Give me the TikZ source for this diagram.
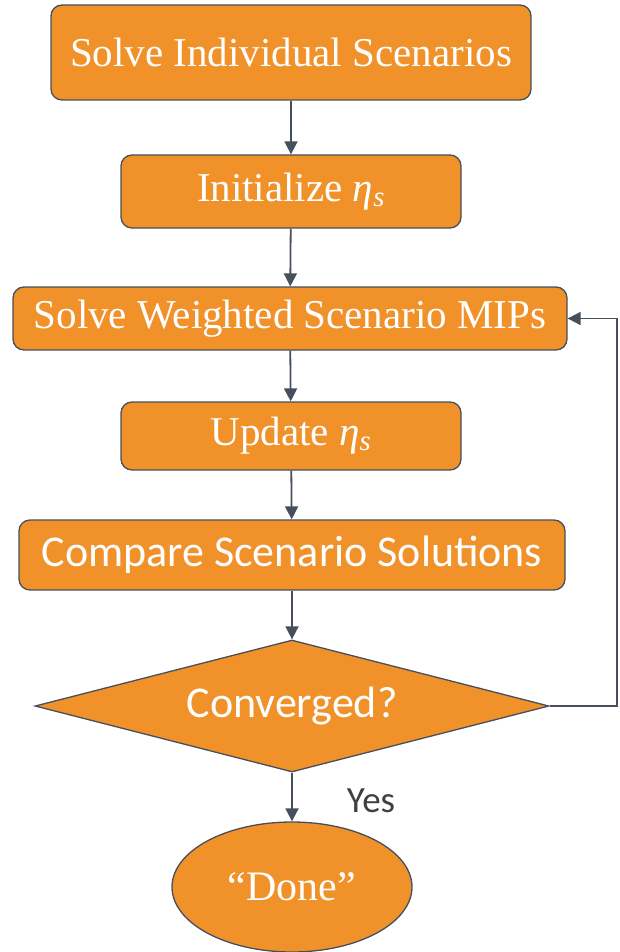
\documentclass[tikz,border=0pt]{standalone}
\usepackage{fontspec}
\setmainfont{Liberation Serif}
\setsansfont{Carlito}
\usetikzlibrary{shapes.geometric,arrows.meta}
\definecolor{boxorange}{HTML}{F0912A}
\definecolor{linegray}{HTML}{46505C}
\newcommand{\etas}{\textit{η}\textsubscript{\itshape s}}
\begin{document}
\begin{tikzpicture}[x=1pt,y=-1pt]
        \tikzstyle{procbox}=[rectangle,rounded corners=11pt,draw=linegray,line width=1.3pt,fill=boxorange,text=white,inner sep=0pt]
        \tikzstyle{decision}=[diamond,aspect=3.9,draw=linegray,line width=1.3pt,fill=boxorange,text=white,inner sep=0pt,font=\sffamily\fontsize{44}{48}\selectfont]
        \tikzstyle{terminal}=[ellipse,draw=linegray,line width=1.3pt,fill=boxorange,text=white,inner sep=0pt,font=\fontsize{42}{46}\selectfont]
        \tikzstyle{link}=[draw=linegray,line width=1.8pt,-{Triangle[width=13pt,length=13pt]}]
        \useasboundingbox (0,0) rectangle (619,952);
        \node [procbox,minimum width=480pt,minimum height=95pt,font=\fontsize{41}{46}\selectfont] (solve) at (291,52.5) {Solve Individual Scenarios};
        \node [procbox,minimum width=340pt,minimum height=73pt,font=\fontsize{41}{46}\selectfont] (init) at (291,191.5) {Initialize \etas};
        \node [procbox,minimum width=554pt,minimum height=63pt,font=\fontsize{41}{46}\selectfont] (mips) at (290,318.5) {Solve Weighted Scenario MIPs};
        \node [procbox,minimum width=340pt,minimum height=68pt,font=\fontsize{41}{46}\selectfont] (update) at (291,436) {Update \etas};
        \node [procbox,minimum width=546pt,minimum height=70pt,font=\sffamily\fontsize{44}{48}\selectfont] (compare) at (292,555) {Compare Scenario Solutions};
        \node [decision,minimum width=514pt,minimum height=132pt] (conv) at (292,706) {Converged?};
        \node [terminal,minimum width=240pt,minimum height=130pt] (done) at (292,887) {``Done''};
        \node [text=black!75,font=\sffamily\fontsize{37}{40}\selectfont,inner sep=0pt] (yes) at (371,801) {Yes};
        \coordinate (back) at (617,706);
        \path[link] (solve) -- (init);
        \path[link] (init) -- (mips);
        \path[link] (mips) -- (update);
        \path[link] (update) -- (compare);
        \path[link] (compare) -- (conv);
        \path[link] (conv) -- (done);
        \path[link] (conv.east) -- (back) |- (mips.east);
\end{tikzpicture}
\end{document}
